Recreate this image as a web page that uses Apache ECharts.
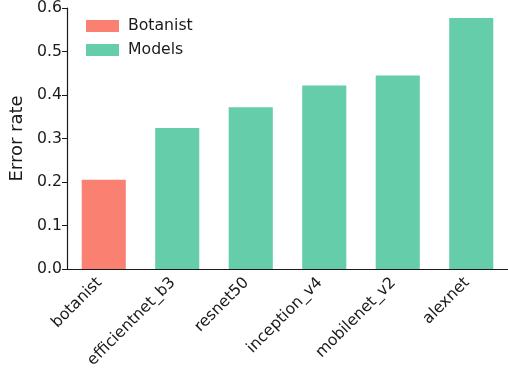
<!DOCTYPE html>
<html><head><meta charset="utf-8">
<script src="https://cdn.jsdelivr.net/npm/echarts@6/dist/echarts.min.js"></script>
<style>html,body{margin:0;padding:0;background:#fff}#c{width:508px;height:371px}</style>
</head><body><div id="c"></div>
<script>
var categories = ['botanist','efficientnet_b3','resnet50','inception_v4','mobilenet_v2','alexnet'];
var botanistValues = [0.205, null, null, null, null, null];
var modelValues = [null, 0.324, 0.372, 0.422, 0.445, 0.577];
var yTicks = [0.0, 0.1, 0.2, 0.3, 0.4, 0.5, 0.6];

var chart = echarts.init(document.getElementById('c'), null, {renderer:'canvas'});
var font = 'DejaVu Sans';
var fs = 15.7;
chart.setOption({
  animation:false,
  textStyle:{fontFamily:font},
  grid:{left:67, right:0, top:6, bottom:102},
  legend:{
    orient:'vertical', left:81, top:13, itemWidth:33, itemHeight:12, itemGap:8,
    textStyle:{fontFamily:font, fontSize:fs, color:'#1a1a1a', padding:[0,0,0,4]},
    data:['Botanist','Models'], icon:'rect'
  },
  xAxis:{
    type:'category', data:categories,
    axisLine:{lineStyle:{color:'#1a1a1a', width:1.2}},
    axisTick:{alignWithLabel:true, length:5, lineStyle:{color:'#1a1a1a'}},
    axisLabel:{rotate:45, fontFamily:font, fontSize:fs, color:'#1a1a1a', margin:7, interval:0, padding:[0,6,0,0]}
  },
  yAxis:{
    type:'value', min:0, max:0.6, interval:0.1,
    name:'Error rate', nameLocation:'middle', nameGap:38,
    nameTextStyle:{fontFamily:font, fontSize:18, color:'#1a1a1a'},
    axisLine:{show:true, lineStyle:{color:'#1a1a1a', width:1.2}},
    axisTick:{show:true, length:5, lineStyle:{color:'#1a1a1a'}},
    splitLine:{show:false},
    axisLabel:{fontFamily:font, fontSize:fs, color:'#1a1a1a', margin:5,
      formatter:function(v){return v.toFixed(1);}}
  },
  series:[
    {name:'Botanist', type:'bar', data:botanistValues, barWidth:'60%', barGap:'-100%', itemStyle:{color:'#FA8072'}},
    {name:'Models', type:'bar', data:modelValues, barWidth:'60%', barGap:'-100%', itemStyle:{color:'#66CDAA'}}
  ]
});
</script></body></html>
